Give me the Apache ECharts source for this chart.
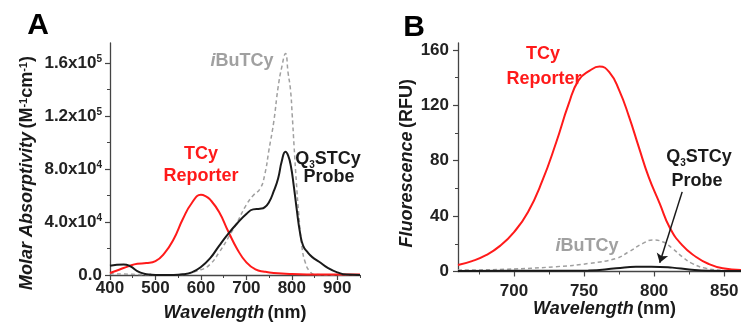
<!DOCTYPE html>
<html lang="en">
<head>
<meta charset="UTF-8">
<title>TCy absorbance / fluorescence</title>
<script src="https://cdn.jsdelivr.net/npm/echarts@6/dist/echarts.min.js"></script>
<style>
  html, body { margin: 0; padding: 0; background: #fff; }
  #chart { width: 741px; height: 325px; }
</style>
</head>
<body>
<div id="chart"></div>
<script>
  // ---- panel A : absorbance ----
  var absReporterNm = [400, 420, 440, 460, 480, 500, 520, 540, 560, 580, 600, 610, 620, 640, 660, 680, 700, 720, 740, 760, 800, 850, 900, 950];
  var absReporterVal = [1500, 4000, 6500, 8500, 9000, 10500, 16500, 27000, 42000, 54300, 60500, 59500, 57000, 47500, 33000, 19500, 9500, 4200, 2500, 1500, 700, 400, 300, 300];

  var absProbeNm = [400, 415, 430, 445, 460, 475, 490, 510, 540, 560, 580, 600, 620, 640, 660, 680, 700, 715, 730, 740, 750, 760, 770, 778, 786, 792, 798, 804, 811, 818, 825, 835, 845, 860, 880, 900, 920, 950];
  var absProbeVal = [7000, 7800, 8000, 6500, 3000, 1000, 300, 0, 0, 500, 2000, 6000, 12500, 22000, 31000, 39000, 46000, 49500, 50000, 51000, 55000, 63000, 73000, 86000, 93000, 90000, 82000, 68000, 49000, 32000, 22000, 17000, 13500, 10000, 5200, 2000, 300, 0];

  var absIbuNm = [400, 450, 500, 550, 600, 620, 640, 660, 680, 700, 715, 730, 740, 750, 760, 770, 778, 786, 792, 797, 801, 805, 810, 815, 822, 830, 840, 850, 900, 950];
  var absIbuVal = [1000, 500, 0, 300, 4000, 8000, 17000, 28000, 40000, 53000, 60000, 65000, 75000, 95000, 115000, 142000, 157000, 167000, 152000, 140000, 120000, 97000, 70000, 47000, 22000, 9000, 2500, 500, 0, 0];

  var absXTicks = [400, 500, 600, 700, 800, 900];
  var absXMinor = [450, 550, 650, 750, 850, 950];
  var absYTicks = [0, 40000, 80000, 120000, 160000];
  var absYTickText = ['{n|0.0}', '{n|4.0x10}{s|4}', '{n|8.0x10}{s|4}', '{n|1.2x10}{s|5}', '{n|1.6x10}{s|5}'];
  var absYMinor = [20000, 60000, 100000, 140000];

  // ---- panel B : fluorescence ----
  var flReporterNm = [660, 670, 680, 690, 700, 710, 720, 730, 739, 746, 754, 761, 768, 775, 782, 789, 796, 804, 811, 820, 830, 839, 849, 862];
  var flReporterVal = [4.7, 7.5, 11.8, 18.5, 28.5, 43, 65, 93, 121, 138, 145, 148, 144, 131, 112, 90, 68.5, 49, 32, 19, 10.5, 5.4, 2.3, 1];

  var flIbuNm = [660, 694, 730, 754, 773, 782, 792, 799, 806, 813, 820, 827, 837, 850, 862];
  var flIbuVal = [1, 1.6, 3.5, 5.9, 9.5, 14.3, 20.3, 22.7, 21.5, 16.7, 10.7, 5.9, 2.3, 0.8, 0.5];

  var flProbeNm = [660, 700, 753, 773, 787, 798, 813, 825, 839, 862];
  var flProbeVal = [0.4, 0.5, 0.8, 2.3, 3.4, 3.5, 2.8, 1.4, 0.5, 0.3];

  var flXTicks = [700, 750, 800, 850];
  var flXMinor = [675, 725, 775, 825];
  var flYTicks = [0, 40, 80, 120, 160];
  var flYMinor = [20, 60, 100, 140];

  var flArrowFrom = [820, 57.5];
  var flArrowTo = [804, 6.3];

  var FONT = '"Liberation Sans", Arial, sans-serif';
  var RED = '#ff1a1a';
  var GREY = '#a0a0a0';
  var INK = '#1a1a1a';

  function pairs(xs, ys) {
    return xs.map(function (x, i) { return [x, ys[i]]; });
  }

  var nameRich = {
    i: { fontFamily: FONT, fontSize: 18, fontWeight: 'bold', fontStyle: 'italic', color: INK },
    n: { fontFamily: FONT, fontSize: 18, fontWeight: 'bold', color: INK },
    s: { fontFamily: FONT, fontSize: 11, fontWeight: 'bold', color: INK, verticalAlign: 'top', lineHeight: 11 }
  };
  var labelRich = {
    n: { fontFamily: FONT, fontSize: 17, fontWeight: 'bold', color: '#222', lineHeight: 18, verticalAlign: 'bottom' },
    s: { fontFamily: FONT, fontSize: 10, fontWeight: 'bold', color: '#222', lineHeight: 10, verticalAlign: 'top' }
  };

  // main axis: line, major ticks and labels
  function mainAxis(grid, pos, min, max, ticks, extra) {
    var ax = {
      type: 'value', gridIndex: grid, position: pos, min: min, max: max,
      splitLine: { show: false },
      nameMoveOverlap: false,
      axisLine: { show: true, lineStyle: { color: '#444', width: 1.3 } },
      axisTick: { show: true, length: 5, customValues: ticks, lineStyle: { color: '#444', width: 1.2 } },
      axisLabel: { show: true, customValues: ticks, fontFamily: FONT, fontSize: 17, fontWeight: 'bold', color: '#222' }
    };
    return Object.assign(ax, extra || {});
  }
  // overlay axis only for the short minor ticks
  function minorAxis(grid, pos, min, max, ticks) {
    return {
      type: 'value', gridIndex: grid, position: pos, min: min, max: max,
      splitLine: { show: false },
      axisLine: { show: false },
      axisLabel: { show: false },
      axisTick: { show: true, length: 3, customValues: ticks, lineStyle: { color: '#444', width: 1 } }
    };
  }

  function line(xi, yi, data, color, width, dashed) {
    return {
      type: 'line', xAxisIndex: xi, yAxisIndex: yi, data: data,
      showSymbol: false, smooth: 0.5,
      lineStyle: { color: color, width: width, type: dashed ? [4, 3] : 'solid' },
      z: 3
    };
  }

  function txt(x, y, text, color, rich) {
    return {
      type: 'text', x: x, y: y, z: 10,
      style: {
        text: text, fill: color, align: 'center', verticalAlign: 'middle',
        font: 'bold 18px ' + FONT, rich: rich
      }
    };
  }
  function annRich(color) {
    return {
      b: { fontFamily: FONT, fontSize: 18, fontWeight: 'bold', fill: color, color: color, lineHeight: 20, verticalAlign: 'top' },
      i: { fontFamily: FONT, fontSize: 18, fontWeight: 'bold', fontStyle: 'italic', fill: color, color: color, lineHeight: 20, verticalAlign: 'top' },
      sub: { fontFamily: FONT, fontSize: 10, fontWeight: 'bold', fill: color, color: color, lineHeight: 10, verticalAlign: 'bottom' }
    };
  }

  var chart = echarts.init(document.getElementById('chart'));

  var option = {
    backgroundColor: '#fff',
    animation: false,
    grid: [
      { left: 110, top: 43, right: 381, bottom: 50, containLabel: false, outerBoundsMode: 'none' },
      { left: 458, top: 43, right: 0, bottom: 53.5, containLabel: false, outerBoundsMode: 'none' }
    ],
    xAxis: [
      mainAxis(0, 'bottom', 400, 950, absXTicks, {
        name: '{i|Wavelength} {n|(nm)}', nameLocation: 'middle', nameGap: 29,
        nameTextStyle: { rich: nameRich }
      }),
      minorAxis(0, 'bottom', 400, 950, absXMinor),
      mainAxis(1, 'bottom', 660, 862, flXTicks, {
        name: '{i|Wavelength} {n|(nm)}', nameLocation: 'middle', nameGap: 29,
        nameTextStyle: { rich: nameRich, padding: [0, 0, 0, 10] }
      }),
      minorAxis(1, 'bottom', 660, 862, flXMinor)
    ],
    yAxis: [
      mainAxis(0, 'left', 0, 175000, absYTicks, {
        name: '{i|Molar Absorptivity} {n|(M}{s|-1}{n|cm}{s|-1}{n|)}',
        nameLocation: 'middle', nameRotate: 90, nameGap: 74,
        nameTextStyle: { rich: nameRich, padding: [0, 28, 0, 0] }
      }),
      minorAxis(0, 'left', 0, 175000, absYMinor),
      mainAxis(1, 'left', 0, 165, flYTicks, {
        name: '{i|Fluorescence} {n|(RFU)}',
        nameLocation: 'middle', nameRotate: 90, nameGap: 42,
        nameTextStyle: { rich: nameRich, padding: [0, 12, 0, 0] }
      }),
      minorAxis(1, 'left', 0, 165, flYMinor)
    ],
    series: [
      line(0, 0, pairs(absIbuNm, absIbuVal), GREY, 1.5, true),
      line(0, 0, pairs(absReporterNm, absReporterVal), RED, 2, false),
      line(0, 0, pairs(absProbeNm, absProbeVal), INK, 2, false),
      line(2, 2, pairs(flIbuNm, flIbuVal), GREY, 1.5, true),
      line(2, 2, pairs(flReporterNm, flReporterVal), RED, 2, false),
      Object.assign(line(2, 2, pairs(flProbeNm, flProbeVal), INK, 2, false), {
        markLine: {
          silent: true, symbol: ['none', 'arrow'], symbolSize: 9,
          label: { show: false },
          lineStyle: { color: INK, width: 1.5, type: 'solid' },
          data: [[{ coord: flArrowFrom }, { coord: flArrowTo }]]
        }
      })
    ],
    graphic: [
      { type: 'text', x: 38, y: 26, style: { text: 'A', fill: '#000', font: 'bold 30px ' + FONT, align: 'center', verticalAlign: 'middle' } },
      { type: 'text', x: 414, y: 28, style: { text: 'B', fill: '#000', font: 'bold 30px ' + FONT, align: 'center', verticalAlign: 'middle' } },
      txt(242, 62, '{i|i}{b|BuTCy}', GREY, annRich(GREY)),
      txt(201, 155, '{b|TCy}', RED, annRich(RED)),
      txt(201, 177, '{b|Reporter}', RED, annRich(RED)),
      txt(328, 160, '{b|Q}{sub|3}{b|STCy}', INK, annRich(INK)),
      txt(329, 178, '{b|Probe}', INK, annRich(INK)),
      txt(543, 55, '{b|TCy}', RED, annRich(RED)),
      txt(544, 80, '{b|Reporter}', RED, annRich(RED)),
      txt(699, 158, '{b|Q}{sub|3}{b|STCy}', INK, annRich(INK)),
      txt(697, 182, '{b|Probe}', INK, annRich(INK)),
      txt(587, 247, '{i|i}{b|BuTCy}', GREY, annRich(GREY))
    ]
  };

  // superscript tick labels on the absorbance axis
  option.yAxis[0].axisLabel.formatter = function (v) {
    var k = absYTicks.indexOf(v);
    return k >= 0 ? absYTickText[k] : '';
  };
  option.yAxis[0].axisLabel.rich = labelRich;
  option.yAxis[0].axisLabel.margin = 8;
  option.yAxis[2].axisLabel.margin = 9;
  option.xAxis[0].axisLabel.margin = 5;
  option.xAxis[2].axisLabel.margin = 11;

  chart.setOption(option);
</script>
</body>
</html>
